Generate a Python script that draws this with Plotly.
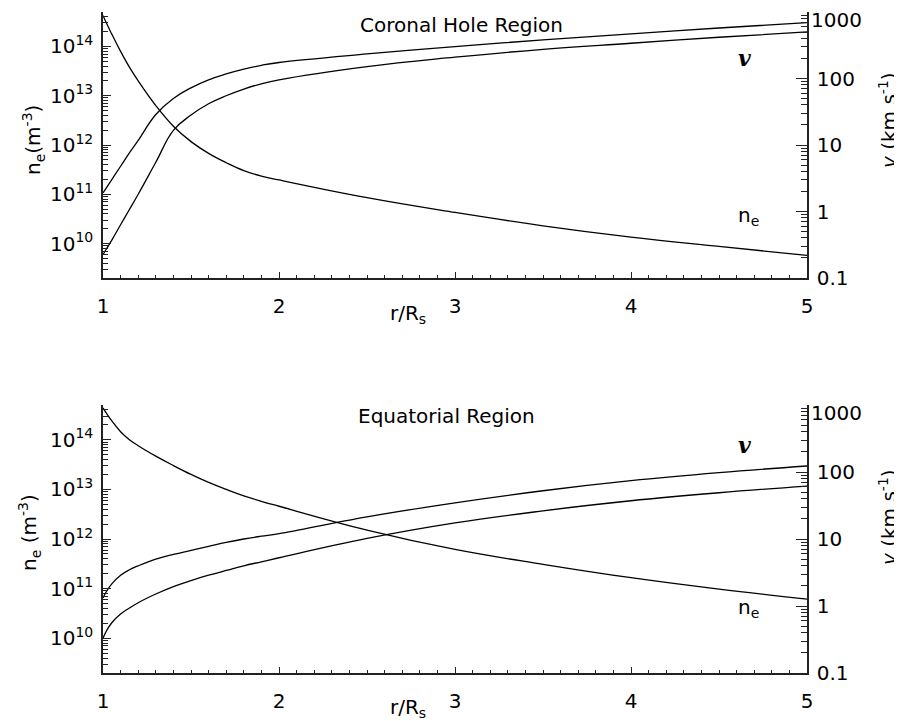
import plotly.graph_objects as go

# ---------------- data ----------------
r = [1.0, 1.02, 1.05, 1.1, 1.15, 1.2, 1.3, 1.4, 1.5, 1.6, 1.7, 1.8, 1.9, 2.0,
     2.5, 3.0, 3.5, 4.0, 4.5, 5.0]

# Coronal hole region
ch_ne = [4.27e14, 2.95e14, 1.78e14, 7.94e13, 3.80e13, 2.0e13, 6.31e12, 2.40e12, 1.17e12,
         6.76e11, 4.37e11, 3.02e11, 2.34e11, 1.95e11, 8.51e10, 4.27e10, 2.29e10, 1.35e10,
         8.71e9, 5.75e9]
ch_v1 = [1.91, 2.29, 3.02, 4.79, 7.59, 11.7, 28.8, 50.1, 72.4, 95.5, 117, 138, 158, 174,
         234, 302, 380, 468, 575, 692]
ch_v2 = [0.224, 0.275, 0.372, 0.631, 1.07, 1.82, 5.50, 16.6, 28.2, 41.7, 55.0, 69.2, 83.2,
         95.5, 151, 209, 275, 339, 417, 501]

# Equatorial region
eq_ne = [4.37e14, 3.39e14, 2.40e14, 1.45e14, 1.0e14, 7.59e13, 4.68e13, 3.02e13, 2.0e13,
         1.38e13, 1.0e13, 7.41e12, 5.75e12, 4.57e12, 1.51e12, 6.17e11, 3.09e11, 1.66e11,
         9.77e10, 6.17e10]
eq_v1 = [1.32, 1.66, 2.14, 2.88, 3.47, 3.98, 5.01, 5.89, 6.76, 7.76, 8.91, 10.0, 11.0, 12.0,
         21.4, 34.7, 52.5, 74.1, 97.7, 123]
eq_v2 = [0.331, 0.427, 0.562, 0.759, 0.933, 1.12, 1.51, 1.95, 2.40, 2.88, 3.39, 3.98, 4.57,
         5.25, 10.2, 17.4, 26.3, 37.2, 49.0, 61.7]

x_ticks = [1, 2, 3, 4, 5]
ne_ticks = [1e10, 1e11, 1e12, 1e13, 1e14]
ne_ticktext = ["10<sup>10</sup>", "10<sup>11</sup>", "10<sup>12</sup>", "10<sup>13</sup>", "10<sup>14</sup>"]
v_ticks = [0.1, 1, 10, 100, 1000]
v_ticktext = ["0.1", "1", "10", "100", ""]   # the top label "1000" is drawn slightly lower, below
v_top_label = "1000"

# ---------------- layout helpers ----------------
# the page body has an 8 px default margin, so the figure is drawn 8 px
# smaller and all positions (given in window pixels) are shifted by 8 px
OFF = 8
W, H = 902 - OFF, 721 - OFF
def fx(px):
    return (px - OFF) / W
def fy(py):
    return 1 - (py - OFF) / H

FONT = "DejaVu Sans"
INK = "#000000"
AX = "#222222"

ne_minor = [m * 10 ** e for e in range(9, 15) for m in range(2, 10)]
v_minor = [m * 10 ** e for e in range(-1, 3) for m in range(2, 10)]
x_minor = [1 + i / 10 for i in range(41) if i % 10 != 0]

fig = go.Figure()

def add_panel(ne, v1, v2, xa, ya_l, ya_r):
    for vals, ya in ((ne, ya_l), (v1, ya_r), (v2, ya_r)):
        fig.add_trace(go.Scatter(x=r, y=vals, xaxis=xa, yaxis=ya, mode="lines",
                                 line=dict(color=INK, width=1.3, shape="spline", smoothing=1.2),
                                 showlegend=False, hoverinfo="skip"))

add_panel(ch_ne, ch_v1, ch_v2, "x", "y", "y2")
add_panel(eq_ne, eq_v1, eq_v2, "x2", "y3", "y4")

xdom = [fx(103), fx(807)]
top_dom = [fy(278), fy(12)]
bot_dom = [fy(673), fy(405)]

def xaxis(anchor):
    return dict(domain=xdom, anchor=anchor, range=[1, 5], showgrid=False, zeroline=False,
                automargin=False,
                showline=True, linecolor=AX, linewidth=1.5, mirror=False,
                tickmode="array", tickvals=x_ticks, ticks="inside", ticklen=6, tickwidth=1.2,
                tickcolor=AX, ticklabelstandoff=9,
                tickfont=dict(family=FONT, size=20, color=INK),
                minor=dict(tickmode="array", tickvals=x_minor, ticks="inside", ticklen=3,
                           tickwidth=1, tickcolor=AX))

def ne_axis(dom, anchor_x):
    return dict(domain=dom, anchor=anchor_x, type="log", range=[9.3, 14.7], side="left",
                automargin=False,
                showgrid=False, zeroline=False, showline=True, linecolor=AX, linewidth=1.5,
                tickmode="array", tickvals=ne_ticks, ticktext=ne_ticktext,
                ticks="inside", ticklen=8, tickwidth=1.2, tickcolor=AX, ticklabelstandoff=4,
                tickfont=dict(family=FONT, size=20, color=INK),
                minor=dict(tickmode="array", tickvals=ne_minor, ticks="inside", ticklen=5,
                           tickwidth=1, tickcolor=AX))

def v_axis(dom, anchor_x, overlay):
    return dict(domain=dom, anchor=anchor_x, overlaying=overlay, type="log", range=[-1, 3],
                automargin=False,
                side="right", showgrid=False, zeroline=False, showline=True, linecolor=AX,
                linewidth=1.5, tickmode="array", tickvals=v_ticks, ticktext=v_ticktext,
                ticks="inside", ticklen=11, tickwidth=1.2, tickcolor=AX, ticklabelstandoff=4,
                tickfont=dict(family=FONT, size=20, color=INK),
                minor=dict(tickmode="array", tickvals=v_minor, ticks="inside", ticklen=6,
                           tickwidth=1, tickcolor=AX))

ann = []
def text(px, py, s, size=20, angle=0, family=FONT, xanchor="center"):
    ann.append(dict(x=fx(px), y=fy(py), xref="paper", yref="paper", text=s, showarrow=False,
                    textangle=angle, xanchor=xanchor, yanchor="middle",
                    font=dict(family=family, size=size, color=INK)))

# panel titles
text(461, 25, "Coronal Hole Region")
text(446, 416, "Equatorial Region")
# x titles
text(408, 314, "r/R<sub>s</sub>")
text(408, 708, "r/R<sub>s</sub>")
# left titles
text(33, 140, "n<sub>e</sub>(m<sup>-3</sup>)", angle=-90)
text(29, 533, "n<sub>e</sub> (m<sup>-3</sup>)", angle=-90)
# right titles
text(888, 120, "<i>v</i> (km s<sup>-1</sup>)", angle=-90)
text(888, 517, "<i>v</i> (km s<sup>-1</sup>)", angle=-90)
# top right-axis labels
text(809, 20, v_top_label, xanchor="left")
text(809, 413, v_top_label, xanchor="left")
# curve labels
text(744, 58, "<b><i>v</i></b>", size=22, family="DejaVu Serif")
text(748, 216, "n<sub>e</sub>")
text(744, 445, "<b><i>v</i></b>", size=22, family="DejaVu Serif")
text(748, 608, "n<sub>e</sub>")

fig.update_layout(
    width=W, height=H, margin=dict(l=0, r=0, t=0, b=0, autoexpand=False),
    paper_bgcolor="white", plot_bgcolor="white",
    xaxis=xaxis("y"), yaxis=ne_axis(top_dom, "x"), yaxis2=v_axis(top_dom, "x", "y"),
    xaxis2=xaxis("y3"), yaxis3=ne_axis(bot_dom, "x2"), yaxis4=v_axis(bot_dom, "x2", "y3"),
    annotations=ann, showlegend=False,
)

fig.write_html("out.html")
